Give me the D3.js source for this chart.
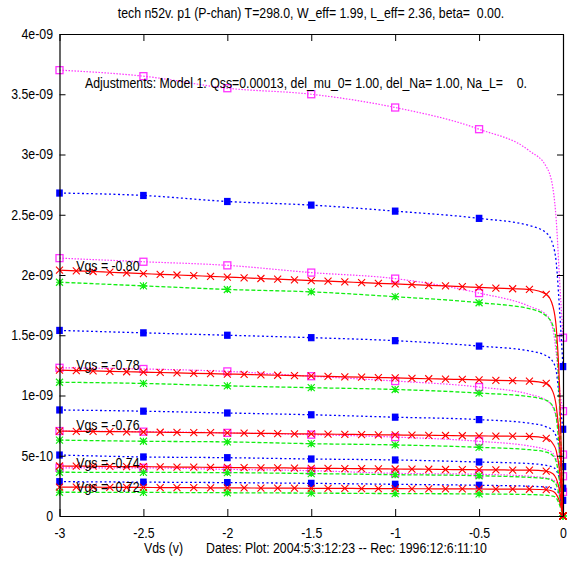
<!DOCTYPE html>
<html><head><meta charset="utf-8">
<script src="https://cdn.jsdelivr.net/npm/d3@7"></script>
<style>
body{margin:0;background:#fff}
text{font-family:"Liberation Sans",Arial,sans-serif;font-size:14px;white-space:pre;fill:#000}
</style>
</head><body><svg id="c" width="569" height="571"></svg>
<script>
// ---- data (currents in units of 1e-9 A) ----
const titleText = "tech n52v. p1 (P-chan) T=298.0, W_eff= 1.99, L_eff= 2.36, beta=  0.00.";
const adjText = "Adjustments: Model 1: Qss=0.00013, del_mu_0= 1.00, del_Na= 1.00, Na_L=    0.";
const xLabel = "Vds (v)";
const datesText = "Dates: Plot: 2004:5:3:12:23 -- Rec: 1996:12:6:11:10";
const xTicks = [-3, -2.5, -2, -1.5, -1, -0.5, 0];
const xTickLabels = ["-3", "-2.5", "-2", "-1.5", "-1", "-0.5", "0"];
const yTicks = [0, 0.5, 1, 1.5, 2, 2.5, 3, 3.5, 4];
const yTickLabels = ["0", "5e-10", "1e-09", "1.5e-09", "2e-09", "2.5e-09", "3e-09", "3.5e-09", "4e-09"];

const vgsLabels = ["Vgs = -0.80", "Vgs = -0.78", "Vgs = -0.76", "Vgs = -0.74", "Vgs = -0.72"];
const vgsLabelX = -2.9;
const vgsLabelY = [2.075, 1.253, 0.755, 0.442, 0.243];

// model curve sample points for the measured-type series
const vdsCurve = [-3, -2.5, -2, -1.5, -1, -0.5, -0.2, -0.1, -0.06, -0.04, -0.02, 0];
const markIdx = [0, 1, 2, 3, 4, 5, 11];

const magenta = [
  [3.70, 3.65, 3.55, 3.50, 3.39, 3.21, 3.03, 2.90, 2.72, 2.45, 1.95, 1.48],
  [2.14, 2.11, 2.08, 2.02, 1.97, 1.85, 1.74, 1.67, 1.55, 1.35, 1.05, 0.87],
  [1.23, 1.22, 1.20, 1.16, 1.12, 1.07, 1.01, 0.96, 0.90, 0.82, 0.65, 0.51],
  [0.705, 0.70, 0.69, 0.675, 0.655, 0.62, 0.58, 0.55, 0.52, 0.47, 0.40, 0.33],
  [0.40, 0.40, 0.387, 0.376, 0.354, 0.346, 0.33, 0.315, 0.30, 0.28, 0.24, 0.20]
];
const blue = [
  [2.68, 2.66, 2.61, 2.58, 2.53, 2.47, 2.41, 2.35, 2.25, 2.10, 1.70, 1.24],
  [1.54, 1.52, 1.50, 1.48, 1.455, 1.41, 1.37, 1.33, 1.28, 1.20, 0.95, 0.72],
  [0.88, 0.87, 0.855, 0.84, 0.82, 0.80, 0.77, 0.74, 0.71, 0.66, 0.55, 0.41],
  [0.506, 0.49, 0.484, 0.473, 0.465, 0.448, 0.435, 0.42, 0.405, 0.38, 0.31, 0.23],
  [0.285, 0.281, 0.277, 0.271, 0.263, 0.255, 0.247, 0.24, 0.23, 0.215, 0.18, 0.13]
];
const green = [
  [1.94, 1.91, 1.88, 1.86, 1.82, 1.77, 1.72, 1.66, 1.58, 1.45, 0.90, 0],
  [1.11, 1.10, 1.08, 1.065, 1.05, 1.02, 0.99, 0.96, 0.91, 0.82, 0.50, 0],
  [0.63, 0.62, 0.615, 0.60, 0.59, 0.57, 0.55, 0.53, 0.50, 0.45, 0.28, 0],
  [0.363, 0.362, 0.36, 0.352, 0.343, 0.334, 0.32, 0.31, 0.29, 0.26, 0.16, 0],
  [0.197, 0.196, 0.193, 0.19, 0.186, 0.183, 0.178, 0.172, 0.165, 0.15, 0.09, 0]
];

// model series with markers every 0.1 V
const vdsRedMarks = [-3.0, -2.9, -2.8, -2.7, -2.6, -2.5, -2.4, -2.3, -2.2, -2.1,
  -2.0, -1.9, -1.8, -1.7, -1.6, -1.5, -1.4, -1.3, -1.2, -1.1,
  -1.0, -0.9, -0.8, -0.7, -0.6, -0.5, -0.4, -0.3, -0.2, -0.1];
const vdsRedTail = [-0.06, -0.04, -0.02, 0];
const red = [
  [2.040, 2.034, 2.029, 2.023, 2.017, 2.011, 2.006, 2.000, 1.994, 1.989,
   1.983, 1.977, 1.971, 1.966, 1.960, 1.954, 1.949, 1.943, 1.937, 1.931,
   1.926, 1.920, 1.914, 1.909, 1.903, 1.897, 1.891, 1.886, 1.880, 1.840],
  [1.210, 1.207, 1.204, 1.200, 1.197, 1.194, 1.191, 1.188, 1.184, 1.181,
   1.178, 1.175, 1.171, 1.168, 1.165, 1.162, 1.159, 1.155, 1.152, 1.149,
   1.146, 1.142, 1.139, 1.136, 1.133, 1.130, 1.126, 1.123, 1.120, 1.100],
  [0.705, 0.703, 0.702, 0.700, 0.699, 0.697, 0.695, 0.694, 0.692, 0.691,
   0.689, 0.687, 0.686, 0.684, 0.682, 0.681, 0.679, 0.678, 0.676, 0.674,
   0.673, 0.671, 0.670, 0.668, 0.666, 0.665, 0.663, 0.662, 0.660, 0.645],
  [0.415, 0.414, 0.413, 0.411, 0.410, 0.409, 0.408, 0.406, 0.405, 0.404,
   0.403, 0.401, 0.400, 0.399, 0.398, 0.396, 0.395, 0.394, 0.393, 0.391,
   0.390, 0.389, 0.388, 0.386, 0.385, 0.384, 0.383, 0.381, 0.380, 0.372],
  [0.240, 0.239, 0.239, 0.238, 0.237, 0.237, 0.236, 0.235, 0.235, 0.234,
   0.234, 0.233, 0.232, 0.232, 0.231, 0.230, 0.230, 0.229, 0.228, 0.228,
   0.227, 0.226, 0.226, 0.225, 0.225, 0.224, 0.223, 0.223, 0.222, 0.218]
];
const redTail = [
  [1.74, 1.56, 1.05, 0],
  [1.03, 0.91, 0.62, 0],
  [0.60, 0.54, 0.37, 0],
  [0.35, 0.31, 0.21, 0],
  [0.205, 0.18, 0.12, 0]
];

// ---- drawing ----
const svg = d3.select("#c");
const x = d3.scaleLinear().domain([-3, 0]).range([59.5, 563]);
const y = d3.scaleLinear().domain([0, 4]).range([516, 34]);
const SX = 0.88;

function label(xp, yp, s, anchor) {
  svg.append("text")
    .attr("transform", `translate(${xp},${yp}) scale(${SX},1)`)
    .attr("text-anchor", anchor || "start")
    .text(s);
}

const line = d3.line().x(d => x(d[0])).y(d => y(d[1])).curve(d3.curveMonotoneX);
const plot = svg.append("g");

const cMag = "#ff33ff", cBlue = "#0000ff", cRed = "#ff0000", cGreen = "#11ee11";

function drawCurve(pts, color, dash, w) {
  plot.append("path").attr("d", line(pts)).attr("fill", "none")
    .attr("stroke", color).attr("stroke-width", w)
    .attr("stroke-dasharray", dash);
}

magenta.forEach(s => {
  const pts = vdsCurve.map((v, i) => [v, s[i]]);
  drawCurve(pts, cMag, "1.5,1.5", 1.2);
  plot.selectAll(null).data(markIdx.map(i => pts[i])).join("rect")
    .attr("x", d => x(d[0]) - 3.5).attr("y", d => y(d[1]) - 3.5)
    .attr("width", 7).attr("height", 7)
    .attr("fill", "none").attr("stroke", cMag).attr("stroke-width", 1.3);
});
blue.forEach(s => {
  const pts = vdsCurve.map((v, i) => [v, s[i]]);
  drawCurve(pts, cBlue, "2,2.5", 1.3);
  plot.selectAll(null).data(markIdx.map(i => pts[i])).join("rect")
    .attr("x", d => x(d[0]) - 3.3).attr("y", d => y(d[1]) - 3.6)
    .attr("width", 6.6).attr("height", 7.2)
    .attr("fill", cBlue);
});
green.forEach(s => {
  const pts = vdsCurve.map((v, i) => [v, s[i]]);
  drawCurve(pts, cGreen, "4,2", 1.3);
  plot.selectAll(null).data(markIdx.map(i => pts[i])).join("path")
    .attr("d", d => {
      const cx = x(d[0]), cy = y(d[1]), r = 3.5;
      return `M${cx - r},${cy - r}L${cx + r},${cy + r}M${cx - r},${cy + r}L${cx + r},${cy - r}` +
             `M${cx - r},${cy}L${cx + r},${cy}M${cx},${cy - r}L${cx},${cy + r}`;
    })
    .attr("stroke", cGreen).attr("stroke-width", 1.2).attr("fill", "none");
});
red.forEach((s, k) => {
  const marks = vdsRedMarks.map((v, i) => [v, s[i]]);
  const tail = vdsRedTail.map((v, i) => [v, redTail[k][i]]);
  drawCurve(marks.concat(tail), cRed, null, 1.2);
  const mk = marks.concat([tail[tail.length - 1]]);
  plot.selectAll(null).data(mk).join("path")
    .attr("d", d => {
      const cx = x(d[0]), cy = y(d[1]), r = 3.5;
      return `M${cx - r},${cy - r}L${cx + r},${cy + r}M${cx - r},${cy + r}L${cx + r},${cy - r}`;
    })
    .attr("stroke", cRed).attr("stroke-width", 1.1).attr("fill", "none");
});

// ---- axes ----
const axL = svg.append("g").attr("transform", `translate(${x(-3)},0)`)
  .call(d3.axisLeft(y).tickValues(yTicks).tickFormat((d, i) => yTickLabels[i])
    .tickSizeInner(-6).tickSizeOuter(0).tickPadding(7.4));
const axR = svg.append("g").attr("transform", `translate(${x(0)},0)`)
  .call(d3.axisRight(y).tickValues(yTicks).tickFormat("").tickSizeInner(-6).tickSizeOuter(0));
const axB = svg.append("g").attr("transform", `translate(0,${y(0)})`)
  .call(d3.axisBottom(x).tickValues(xTicks).tickFormat((d, i) => xTickLabels[i])
    .tickSizeInner(-7).tickSizeOuter(0).tickPadding(12));
const axT = svg.append("g").attr("transform", `translate(0,${y(4)})`)
  .call(d3.axisTop(x).tickValues(xTicks).tickFormat("").tickSizeInner(-7).tickSizeOuter(0));
[axL, axR, axB, axT].forEach(a => {
  a.attr("font-family", null).attr("font-size", null);
  a.selectAll("path.domain").attr("stroke", "#000").attr("stroke-width", 1.2);
  a.selectAll("line").attr("stroke", "#000");
  a.selectAll("text").attr("fill", "#000").style("font-size", "14px");
});
axL.selectAll("text").attr("transform", `scale(${SX},1)`);
axB.selectAll("text").attr("transform", `scale(${SX},1)`);

// ---- texts ----
label(311, 18, titleText, "middle");
label(85, 88, adjText, "start");
label(144, 553, xLabel, "start");
label(206, 553, datesText, "start");
vgsLabels.forEach((s, i) => {
  svg.append("text")
    .attr("transform", `translate(${x(vgsLabelX)},${y(vgsLabelY[i])}) scale(${SX},1)`)
    .attr("dy", "0.35em").text(s);
});
</script>
</body></html>
